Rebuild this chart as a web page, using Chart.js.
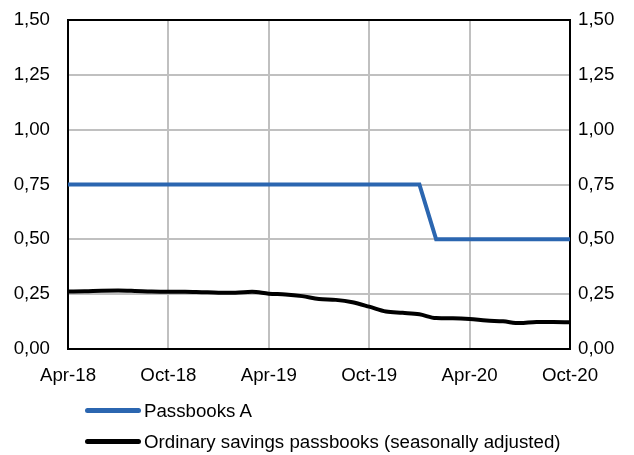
<!DOCTYPE html>
<html>
<head>
<meta charset="utf-8">
<script src="https://cdn.jsdelivr.net/npm/chart.js@4.4.0/dist/chart.umd.min.js"></script>
<style>
  body { margin: 0; background: #fff; }
  #wrap { position: relative; width: 634px; height: 455px; }
  #legend { position: absolute; left: 85px; top: 395px; font-family: "Liberation Sans", Arial, sans-serif; font-size: 18.7px; color: #000; }
  .item { display: flex; align-items: center; height: 31px; }
  .swatch { width: 56px; height: 5px; border-radius: 3px; margin-right: 3px; }
</style>
</head>
<body>
<div id="wrap">
  <canvas id="myChart" width="634" height="455"></canvas>
  <div id="legend"></div>
</div>
<script>
const months = ['Apr-18','May-18','Jun-18','Jul-18','Aug-18','Sep-18','Oct-18','Nov-18','Dec-18',
  'Jan-19','Feb-19','Mar-19','Apr-19','May-19','Jun-19','Jul-19','Aug-19','Sep-19','Oct-19','Nov-19','Dec-19',
  'Jan-20','Feb-20','Mar-20','Apr-20','May-20','Jun-20','Jul-20','Aug-20','Sep-20','Oct-20'];
const passbooksA = [0.75,0.75,0.75,0.75,0.75,0.75,0.75,0.75,0.75,
  0.75,0.75,0.75,0.75,0.75,0.75,0.75,0.75,0.75,0.75,0.75,0.75,
  0.75,0.50,0.50,0.50,0.50,0.50,0.50,0.50,0.50,0.50];
const ordinary = [0.262,0.263,0.266,0.267,0.265,0.262,0.261,0.261,0.259,
  0.257,0.257,0.261,0.252,0.249,0.241,0.228,0.224,0.213,0.193,0.171,0.165,
  0.158,0.141,0.140,0.137,0.130,0.126,0.118,0.123,0.123,0.122];
const shownTicks = ['Apr-18','Oct-18','Apr-19','Oct-19','Apr-20','Oct-20'];
const seriesNames = ['Passbooks A','Ordinary savings passbooks (seasonally adjusted)'];
const seriesColors = ['#2B66B0','#000000'];

function drawChart(){
  const ctx = document.getElementById('myChart');
  const font = { family: '"Liberation Sans", Arial, sans-serif', size: 18.7 };
  const fmt = v => v.toFixed(2).replace('.', ',');

  new Chart(ctx, {
    type: 'line',
    data: {
      labels: months,
      datasets: [{
        label: seriesNames[0],
        data: passbooksA,
        borderColor: seriesColors[0],
        borderWidth: 4,
        pointRadius: 0,
        tension: 0,
        yAxisID: 'y'
      }, {
        label: seriesNames[1],
        data: ordinary,
        borderColor: seriesColors[1],
        borderWidth: 4,
        pointRadius: 0,
        cubicInterpolationMode: 'monotone',
        yAxisID: 'y'
      }]
    },
    options: {
      responsive: false,
      animation: false,
      layout: { padding: { top: 20, bottom: 0, left: 0, right: 0 } },
      plugins: { legend: { display: false }, tooltip: { enabled: false } },
      scales: {
        x: {
          offset: false,
          ticks: {
            autoSkip: false, maxRotation: 0, color: '#000', font: font, padding: 16,
            callback: function(v){ const l = this.getLabelForValue(v); return shownTicks.includes(l) ? l : ''; }
          },
          grid: {
            color: c => (c.tick && shownTicks.includes(months[c.tick.value]) ? '#c0c0c0' : 'rgba(0,0,0,0)'),
            lineWidth: 2,
            drawTicks: false
          },
          border: { color: '#000', width: 2 },
          afterFit: s => { s.height = 106; s.paddingLeft = 0; s.paddingRight = 0; }
        },
        y: {
          position: 'left',
          min: 0, max: 1.5,
          ticks: { stepSize: 0.25, color: '#000', font: font, padding: 18, callback: v => fmt(v) },
          grid: { color: c => (c.tick && c.tick.value === 1.5 ? '#000' : '#c0c0c0'), lineWidth: 2, drawTicks: false },
          border: { color: '#000', width: 2 },
          afterFit: s => { s.width = 68; s.paddingTop = 0; s.paddingBottom = 0; }
        },
        y2: {
          position: 'right',
          min: 0, max: 1.5,
          ticks: { stepSize: 0.25, color: '#000', font: font, padding: 8, callback: v => fmt(v) },
          grid: { drawOnChartArea: false, drawTicks: false },
          border: { color: '#000', width: 2 },
          afterFit: s => { s.width = 64; s.paddingTop = 0; s.paddingBottom = 0; }
        }
      }
    }
  });

  const legend = document.getElementById('legend');
  seriesNames.forEach((name, i) => {
    const item = document.createElement('div');
    item.className = 'item';
    item.innerHTML = '<span class="swatch" style="background:' + seriesColors[i] + '"></span><span>' + name + '</span>';
    legend.appendChild(item);
  });
}
drawChart();
</script>
</body>
</html>
